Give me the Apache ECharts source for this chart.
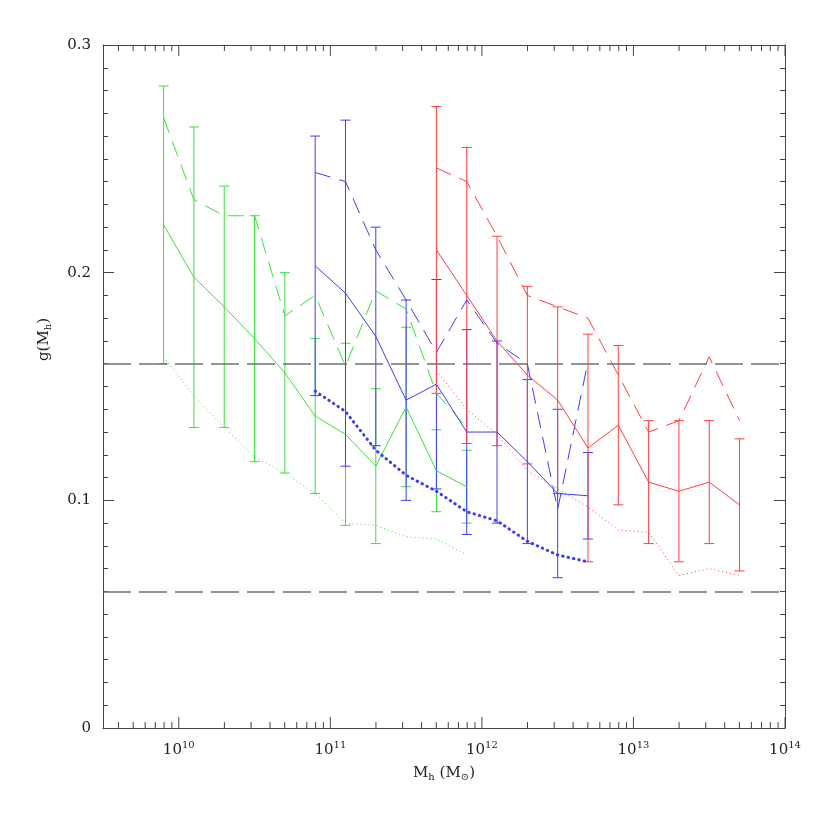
<!DOCTYPE html>
<html>
<head>
<meta charset="utf-8">
<script src="https://cdn.jsdelivr.net/npm/echarts@6/dist/echarts.min.js"></script>
<style>
  html, body { margin: 0; background: #fff; }
  #chart { width: 830px; height: 830px; }
</style>
</head>
<body>
<div id="chart"></div>
<script>
// log10(M_h) of the bins for each sample
const greenLogM = [9.9, 10.1, 10.3, 10.5, 10.7, 10.9, 11.1, 11.3, 11.5, 11.7, 11.9]
const blueLogM = [10.9, 11.1, 11.3, 11.5, 11.7, 11.9, 12.1, 12.3, 12.5, 12.7]
const redLogM = [11.7, 11.9, 12.1, 12.3, 12.5, 12.7, 12.9, 13.1, 13.3, 13.5, 13.7]

// solid curve (with error bars), dashed and dotted curves
const greenMid = [0.221, 0.198, 0.185, 0.171, 0.156, 0.137, 0.129, 0.115, 0.141, 0.113, 0.106]
const greenErr = [0.061, 0.066, 0.053, 0.054, 0.044, 0.034, 0.040, 0.034, 0.035, 0.018, 0.016]
const greenDash = [0.268, 0.232, 0.225, 0.225, 0.181, 0.190, 0.159, 0.192, 0.184, 0.147, 0.132]
const greenDot = [0.163, 0.146, 0.132, 0.119, 0.112, 0.103, 0.090, 0.089, 0.084, 0.083, 0.076]

const blueMid = [0.203, 0.191, 0.172, 0.144, 0.151, 0.130, 0.130, 0.117, 0.103, 0.102]
const blueErr = [0.057, 0.076, 0.048, 0.044, 0.046, 0.045, 0.040, 0.036, 0.037, 0.019]
const blueDash = [0.244, 0.240, 0.210, 0.188, 0.165, 0.188, 0.169, 0.160, 0.096, 0.161]
const blueDot = [0.148, 0.139, 0.122, 0.111, 0.104, 0.095, 0.091, 0.082, 0.076, 0.073]

const redMid = [0.210, 0.190, 0.170, 0.155, 0.144, 0.123, 0.133, 0.108, 0.104, 0.108, 0.098]
const redErr = [0.063, 0.065, 0.046, 0.039, 0.041, 0.050, 0.035, 0.027, 0.031, 0.027, 0.029]
const redDash = [0.246, 0.240, 0.216, 0.190, 0.185, 0.180, 0.155, 0.130, 0.135, 0.163, 0.135]
const redDot = [0.157, 0.140, 0.129, 0.113, 0.105, 0.097, 0.087, 0.086, 0.067, 0.070, 0.067]

// horizontal reference levels
const refLevels = [0.16, 0.06]

// axis ranges
const xMin = 9.5, xMax = 14
const yMin = 0, yMax = 0.3
const decades = [10, 11, 12, 13, 14]

const GREEN = '#3be03b'
const BLUE = '#3c3cff'
const RED = '#ff4040'
const FRAME = '#444'
const FONT = 'DejaVu Serif'

// log-axis tick positions (major at decades, minor at 2..9)
const xTicks = []
for (let n = 9; n <= 13; n++) {
    for (let k = 2; k <= 9; k++) {
        const v = n + Math.log10(k)
        if (v > xMin && v < xMax) xTicks.push([v, 0])
    }
}
decades.forEach(d => xTicks.push([d, 1]))

function curve(logM, vals, color, dash, width, cap) {
    return {
        type: 'line',
        data: logM.map((x, i) => [x, vals[i]]),
        showSymbol: false,
        symbol: 'none',
        silent: true,
        lineStyle: { color, width: width || 1, type: dash || 'solid', cap: cap || 'butt' }
    }
}

function errorBars(logM, mid, err, color) {
    return {
        type: 'custom',
        silent: true,
        data: logM.map((x, i) => [x, mid[i] - err[i], mid[i] + err[i]]),
        encode: { x: 0, y: [1, 2] },
        renderItem: (params, api) => {
            const lo = api.coord([api.value(0), api.value(1)])
            const hi = api.coord([api.value(0), api.value(2)])
            const w = 5
            const st = { stroke: color, lineWidth: 1 }
            return {
                type: 'group',
                children: [
                    { type: 'line', shape: { x1: lo[0], y1: lo[1], x2: hi[0], y2: hi[1] }, style: st },
                    { type: 'line', shape: { x1: lo[0] - w, y1: lo[1], x2: lo[0] + w, y2: lo[1] }, style: st },
                    { type: 'line', shape: { x1: hi[0] - w, y1: hi[1], x2: hi[0] + w, y2: hi[1] }, style: st }
                ]
            }
        }
    }
}

// tick marks of the log x axis, bottom and top edges
const tickSeries = {
    type: 'custom',
    silent: true,
    data: xTicks,
    encode: { x: 0, y: 1 },
    renderItem: (params, api) => {
        const v = api.value(0)
        const len = api.value(1) ? 11 : 6
        const b = api.coord([v, yMin])
        const t = api.coord([v, yMax])
        const st = { stroke: FRAME, lineWidth: 1 }
        return {
            type: 'group',
            children: [
                { type: 'line', shape: { x1: b[0], y1: b[1], x2: b[0], y2: b[1] - len }, style: st },
                { type: 'line', shape: { x1: t[0], y1: t[1], x2: t[0], y2: t[1] + len }, style: st }
            ]
        }
    }
}

const refSeries = {
    type: 'line',
    data: [],
    silent: true,
    markLine: {
        silent: true,
        symbol: 'none',
        label: { show: false },
        lineStyle: { color: '#707070', width: 1.5, type: [28, 8] },
        data: refLevels.map(v => ({ yAxis: v }))
    }
}

const yAxisBase = {
    type: 'value',
    min: yMin,
    max: yMax,
    interval: 0.1,
    splitLine: { show: false },
    axisLine: { show: true, lineStyle: { color: FRAME, width: 1 } },
    axisTick: { inside: true, length: 11, lineStyle: { color: FRAME } },
    minorTick: { show: true, splitNumber: 10, length: 5, lineStyle: { color: FRAME } }
}

const chart = echarts.init(document.getElementById('chart'))
chart.setOption({
    animation: false,
    backgroundColor: '#fff',
    grid: { left: 103, right: 45, top: 45, bottom: 102, show: false },
    xAxis: [
        {
            type: 'value',
            min: xMin,
            max: xMax,
            interval: 0.5,
            position: 'bottom',
            splitLine: { show: false },
            axisTick: { show: false },
            axisLine: { show: true, onZero: false, lineStyle: { color: FRAME, width: 1 } },
            axisLabel: {
                margin: 12,
                formatter: v => Math.abs(v - Math.round(v)) < 1e-6 ? `{b|10}{s|${Math.round(v)}}` : '',
                rich: {
                    b: { fontFamily: FONT, fontSize: 15, color: '#222' },
                    s: { fontFamily: FONT, fontSize: 10, color: '#222', padding: [0, 0, 10, 0] }
                }
            },
            name: '{b|M}{s|h}{b| (M}{s|⊙}{b|)}',
            nameLocation: 'middle',
            nameGap: 36,
            nameTextStyle: {
                rich: {
                    b: { fontFamily: FONT, fontSize: 15, color: '#222' },
                    s: { fontFamily: FONT, fontSize: 10, color: '#222', padding: [8, 0, 0, 0] }
                }
            }
        },
        {
            type: 'value',
            min: xMin,
            max: xMax,
            position: 'top',
            splitLine: { show: false },
            axisTick: { show: false },
            axisLabel: { show: false },
            axisLine: { show: true, onZero: false, lineStyle: { color: FRAME, width: 1 } }
        }
    ],
    yAxis: [
        {
            ...yAxisBase,
            position: 'left',
            axisLabel: {
                margin: 12,
                fontFamily: FONT,
                fontSize: 15,
                color: '#222',
                formatter: v => v === 0 ? '0' : v.toFixed(1)
            },
            name: '{b|g(M}{s|h}{b|)}',
            nameLocation: 'middle',
            nameRotate: 90,
            nameGap: 50,
            nameTextStyle: {
                padding: [0, 0, 0, 94],
                rich: {
                    b: { fontFamily: FONT, fontSize: 15, color: '#222' },
                    s: { fontFamily: FONT, fontSize: 10, color: '#222', padding: [8, 0, 0, 0] }
                }
            }
        },
        {
            ...yAxisBase,
            position: 'right',
            axisLabel: { show: false }
        }
    ],
    series: [
        tickSeries,
        refSeries,
        errorBars(greenLogM, greenMid, greenErr, GREEN),
        curve(greenLogM, greenMid, GREEN),
        curve(greenLogM, greenDash, GREEN, [16, 9]),
        curve(greenLogM, greenDot, GREEN, [1, 3]),
        errorBars(blueLogM, blueMid, blueErr, BLUE),
        curve(blueLogM, blueMid, BLUE),
        curve(blueLogM, blueDash, BLUE, [16, 9]),
        curve(blueLogM, blueDot, BLUE, [0.5, 5], 3, 'round'),
        errorBars(redLogM, redMid, redErr, RED),
        curve(redLogM, redMid, RED),
        curve(redLogM, redDash, RED, [16, 9]),
        curve(redLogM, redDot, RED, [1, 3])
    ]
})
</script>
</body>
</html>
